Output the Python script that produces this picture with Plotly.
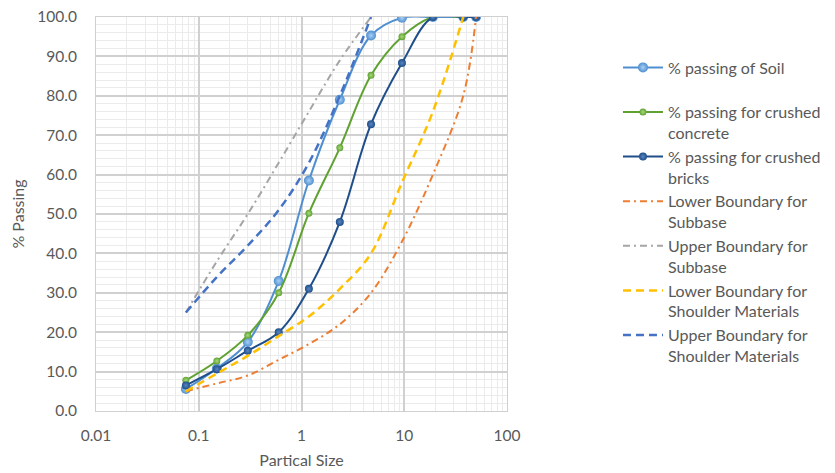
import plotly.graph_objects as go

sieve = [0.075, 0.15, 0.3, 0.6, 1.18, 2.36, 4.75, 9.5, 19, 37.5, 50]
soil = [5.6, 10.8, 17.5, 33.0, 58.5, 79.0, 95.3, 99.8, 100, 100, 100]
concrete = [7.8, 12.7, 19.2, 30.0, 50.2, 66.8, 85.2, 95.0, 100, 100, 100]
bricks = [6.5, 10.6, 15.3, 20.0, 31.0, 48.0, 72.8, 88.3, 100, 100, 100]

lower_subbase_x = [0.075, 0.15, 0.3, 0.6, 1.18, 2.36, 4.75, 9.5, 19, 37.5, 50]
lower_subbase = [5, 7, 9, 13, 17, 22, 30, 43, 60, 80, 100]
upper_subbase_x = [0.075, 0.15, 0.3, 0.6, 1.18, 2.36, 4.75]
upper_subbase = [25, 38, 50, 63, 76, 89, 100]
lower_shoulder_x = [0.075, 0.15, 0.3, 0.6, 1.18, 2.36, 4.75, 9.5, 19, 37.5]
lower_shoulder = [5, 9.5, 14, 19, 24, 31, 40, 58, 76, 100]
upper_shoulder_x = [0.075, 0.15, 0.3, 0.6, 1.18, 2.36, 4.75]
upper_shoulder = [25, 34, 42, 51, 63, 80, 100]

y_ticks = [0, 10, 20, 30, 40, 50, 60, 70, 80, 90, 100]
x_ticks = [0.01, 0.1, 1, 10, 100]

names = [
    "% passing of Soil<br> ",
    "% passing for crushed<br>concrete",
    "% passing for crushed<br>bricks",
    "Lower Boundary for<br>Subbase",
    "Upper Boundary for<br>Subbase",
    "Lower Boundary for<br>Shoulder Materials",
    "Upper Boundary for<br>Shoulder Materials",
]

FONT = "Lato, Carlito, sans-serif"
fig = go.Figure()

def meas(x, y, name, color, light, size):
    fig.add_trace(go.Scatter(
        x=x, y=y, name=name, mode="lines+markers",
        line=dict(color=color, width=2, shape="spline", smoothing=1),
        marker=dict(size=size, color=color, line=dict(width=0),
                    gradient=dict(type="radial", color=light)),
    ))

meas(sieve, soil, names[0], "#4F8FD0", "#A9D0F5", 10)
meas(sieve, concrete, names[1], "#5FA232", "#A8DA7E", 7)
meas(sieve, bricks, names[2], "#1F4E8A", "#5A86C0", 8)

def bound(x, y, name, color, dash, width=2):
    fig.add_trace(go.Scatter(
        x=x, y=y, name=name, mode="lines",
        line=dict(color=color, width=width, dash=dash, shape="spline", smoothing=1),
    ))

bound(lower_subbase_x, lower_subbase, names[3], "#ED7D31", "7px,4px,2px,4px")
bound(upper_subbase_x, upper_subbase, names[4], "#A5A5A5", "7px,4px,2px,4px")
bound(lower_shoulder_x, lower_shoulder, names[5], "#FFC000", "8px,5px", 2.5)
bound(upper_shoulder_x, upper_shoulder, names[6], "#4472C4", "8px,5px", 2.5)

tick_font = dict(family=FONT, size=15.5, color="#595959")

# page body has an 8px margin, so the figure is sized/offset to compensate
fig.update_layout(
    width=827, height=465,
    margin=dict(l=88, r=328, t=9, b=62),
    paper_bgcolor="white", plot_bgcolor="white",
    font=dict(family=FONT, size=14, color="#595959"),
    showlegend=True,
    legend=dict(
        x=1.27, y=0.915, xanchor="left", yanchor="top",
        font=dict(family=FONT, size=16, color="#595959"),
        valign="top", tracegroupgap=0, itemwidth=40,
        bgcolor="rgba(0,0,0,0)",
    ),
    xaxis=dict(
        type="log", range=[-2, 2], automargin=False,
        tickvals=x_ticks, ticktext=[str(v) for v in x_ticks],
        tickfont=tick_font, ticklabelstandoff=10, ticklabeloverflow="allow",
        showgrid=True, gridcolor="#D0D0D0", gridwidth=1.5,
        minor=dict(showgrid=True, gridcolor="#EBEBEB", gridwidth=1, dtick="D1"),
        showline=True, linecolor="#D0D0D0", mirror=True, zeroline=False,
        title=dict(text="Partical Size", font=dict(family=FONT, size=16, color="#595959"), standoff=12),
    ),
    yaxis=dict(
        range=[0, 100], automargin=False,
        tickvals=y_ticks, ticktext=["%.1f" % v for v in y_ticks],
        tickfont=tick_font, ticklabelstandoff=15, ticklabeloverflow="allow",
        showgrid=True, gridcolor="#D0D0D0", gridwidth=1.5,
        minor=dict(showgrid=True, gridcolor="#EBEBEB", gridwidth=1, dtick=2),
        showline=True, linecolor="#D0D0D0", mirror=True, zeroline=False,
        title=dict(text="% Passing", font=dict(family=FONT, size=16, color="#595959"), standoff=8),
    ),
)

fig.write_html("out.html")
